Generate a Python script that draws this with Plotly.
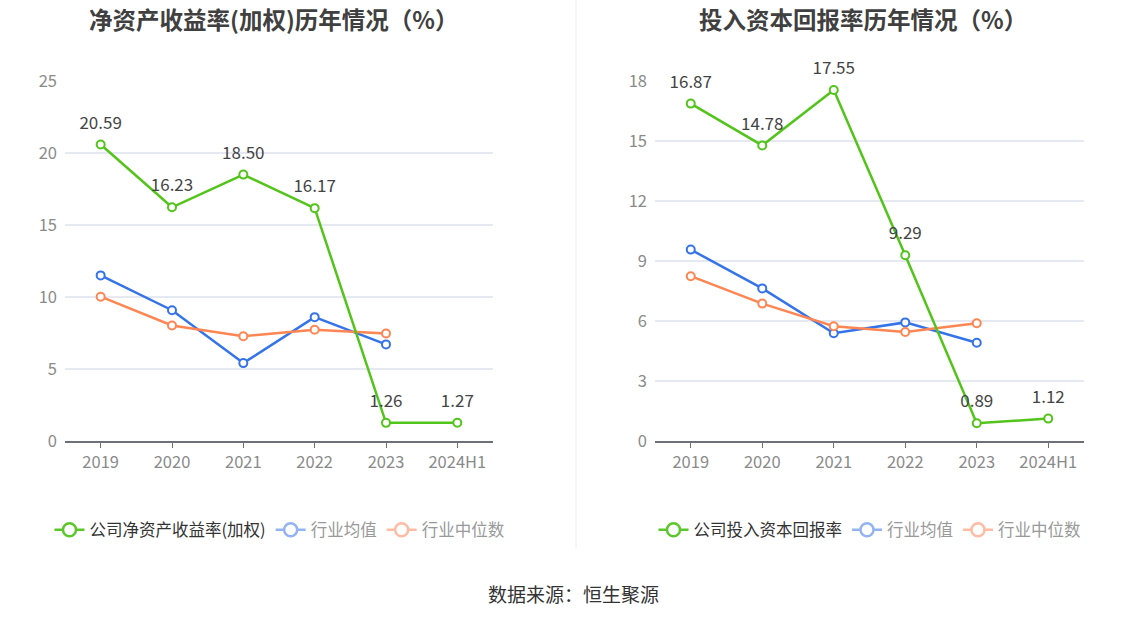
import plotly.graph_objects as go

W, H = 1147, 619

years = ["2019", "2020", "2021", "2022", "2023", "2024H1"]

# 净资产收益率(加权)
roe_company = [20.59, 16.23, 18.50, 16.17, 1.26, 1.27]
roe_avg = [11.50, 9.08, 5.41, 8.60, 6.71]
roe_median = [10.02, 8.02, 7.28, 7.72, 7.46]

# 投入资本回报率
roic_company = [16.87, 14.78, 17.55, 9.29, 0.89, 1.12]
roic_avg = [9.57, 7.63, 5.39, 5.93, 4.91]
roic_median = [8.24, 6.87, 5.74, 5.45, 5.89]

GREEN = "#52c41a"
BLUE = "#3573e8"
ORANGE = "#ff8552"
GREEN_L = "#5cc72a"
BLUE_L = "#93b3f2"
ORANGE_L = "#ffbba3"

FONT = "Noto Sans CJK SC"


def px_x(p):
    return p / W


def px_y(p):
    return 1 - p / H


def line(x, y, color, xa, ya):
    return go.Scatter(
        x=x, y=y, xaxis=xa, yaxis=ya, mode="lines+markers",
        line=dict(color=color, width=2.5),
        marker=dict(symbol="circle", size=8, color="white",
                    line=dict(color=color, width=2)),
        showlegend=False, hoverinfo="skip", cliponaxis=False,
    )


def labels(x, y, xa, ya):
    # transparent markers push the value labels a bit higher above the points
    return go.Scatter(
        x=x, y=y, xaxis=xa, yaxis=ya, mode="markers+text",
        marker=dict(size=17, color="rgba(0,0,0,0)"),
        text=[f"{v:.2f}" for v in y], textposition="top center",
        textfont=dict(size=17, color="#444", family=FONT),
        showlegend=False, hoverinfo="skip", cliponaxis=False,
    )


def legend_item(name, color, legend, textcolor):
    return go.Scatter(
        x=[None], y=[None], mode="lines+markers",
        name=f"<span style='color:{textcolor}'>{name}</span>",
        line=dict(color=color, width=2.5),
        marker=dict(symbol="circle", size=13, color="white",
                    line=dict(color=color, width=2.5)),
        legend=legend,
    )


fig = go.Figure()

fig.add_trace(line(years[:5], roe_avg, BLUE, "x", "y"))
fig.add_trace(line(years[:5], roe_median, ORANGE, "x", "y"))
fig.add_trace(line(years, roe_company, GREEN, "x", "y"))
fig.add_trace(labels(years, roe_company, "x", "y"))

fig.add_trace(line(years[:5], roic_avg, BLUE, "x2", "y2"))
fig.add_trace(line(years[:5], roic_median, ORANGE, "x2", "y2"))
fig.add_trace(line(years, roic_company, GREEN, "x2", "y2"))
fig.add_trace(labels(years, roic_company, "x2", "y2"))

fig.add_trace(legend_item("公司净资产收益率(加权)", GREEN_L, "legend", "#333"))
fig.add_trace(legend_item("行业均值", BLUE_L, "legend", "#999"))
fig.add_trace(legend_item("行业中位数", ORANGE_L, "legend", "#999"))
fig.add_trace(legend_item("公司投入资本回报率", GREEN_L, "legend2", "#333"))
fig.add_trace(legend_item("行业均值", BLUE_L, "legend2", "#999"))
fig.add_trace(legend_item("行业中位数", ORANGE_L, "legend2", "#999"))

ydom = [px_y(441), px_y(81)]
xaxis_common = dict(
    type="category", range=[-0.5, 5.5], showgrid=False, zeroline=False,
    showline=True, linecolor="#6e7079", linewidth=1.5,
    ticks="outside", ticklen=5, tickcolor="#6e7079",
    tickfont=dict(size=16.5, color="#8a8a8a", family=FONT),
    fixedrange=True, automargin=False,
)
yaxis_common = dict(
    showgrid=True, gridcolor="#e6e9f2", gridwidth=1.5, zeroline=False,
    showline=False, ticks="", ticklabelstandoff=7,
    tickfont=dict(size=16.5, color="#8a8a8a", family=FONT),
    fixedrange=True, automargin=False,
)

fig.update_layout(
    width=W, height=H,
    margin=dict(l=0, r=0, t=0, b=0, autoexpand=False),
    paper_bgcolor="white", plot_bgcolor="white",
    font=dict(family=FONT),
    xaxis=dict(domain=[px_x(65), px_x(493)], anchor="y", **xaxis_common),
    yaxis=dict(domain=ydom, anchor="x", range=[0, 25], dtick=5, **yaxis_common),
    xaxis2=dict(domain=[px_x(655), px_x(1084)], anchor="y2", **xaxis_common),
    yaxis2=dict(domain=ydom, anchor="x2", range=[0, 18], dtick=3, **yaxis_common),
    legend=dict(orientation="h", x=px_x(280), xanchor="center",
                y=px_y(530), yanchor="middle",
                font=dict(size=16.5, color="#333", family=FONT),
                itemwidth=30, bgcolor="rgba(0,0,0,0)"),
    legend2=dict(orientation="h", x=px_x(870), xanchor="center",
                 y=px_y(530), yanchor="middle",
                 font=dict(size=16.5, color="#333", family=FONT),
                 itemwidth=30, bgcolor="rgba(0,0,0,0)"),
    annotations=[
        dict(text="<b>净资产收益率(加权)历年情况（%）</b>", x=px_x(273), y=px_y(19),
             xref="paper", yref="paper", xanchor="center", yanchor="middle",
             showarrow=False, font=dict(size=23.5, color="#404040", family=FONT)),
        dict(text="<b>投入资本回报率历年情况（%）</b>", x=px_x(863), y=px_y(19),
             xref="paper", yref="paper", xanchor="center", yanchor="middle",
             showarrow=False, font=dict(size=23.5, color="#404040", family=FONT)),
        dict(text="数据来源：恒生聚源", x=px_x(573), y=px_y(593),
             xref="paper", yref="paper", xanchor="center", yanchor="middle",
             showarrow=False, font=dict(size=19, color="#333", family=FONT)),
    ],
    shapes=[
        dict(type="line", xref="paper", yref="paper",
             x0=px_x(576), x1=px_x(576), y0=1, y1=px_y(548),
             line=dict(color="#eeeeee", width=1)),
    ],
)

# drop the default page margin so the figure sits at the window's top-left
fig.write_html("out.html", config={"displayModeBar": False},
               post_script="document.body.style.margin = '0';")
